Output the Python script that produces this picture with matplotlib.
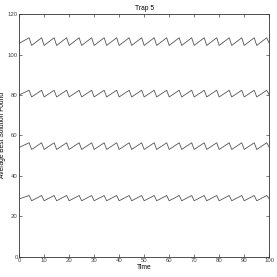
import matplotlib
matplotlib.use("Agg")
import matplotlib.pyplot as plt

plt.rcParams['font.family'] = ['Liberation Sans', 'DejaVu Sans']

# vertices of the sawtooth curves (time, value)
time = [0, 4, 5, 9, 10, 14, 15, 19, 20, 24, 25, 29, 30, 34, 35, 39, 40,
        44, 45, 49, 50, 54, 55, 59, 60, 64, 65, 69, 70, 74, 75, 79, 80,
        84, 85, 89, 90, 94, 95, 99, 100]

run_1 = [105.5, 108.3, 104.5, 108.3, 104.5, 108.3, 104.5, 108.3, 104.5,
         108.3, 104.5, 108.3, 104.5, 108.3, 104.5, 108.3, 104.5, 108.3,
         104.5, 108.3, 104.5, 108.3, 104.5, 108.3, 104.5, 108.3, 104.5,
         108.3, 104.5, 108.3, 104.5, 108.3, 104.5, 108.3, 104.5, 108.3,
         104.5, 108.3, 104.5, 108.3, 105.5]
run_2 = [80.0, 82.3, 79.0, 82.3, 79.0, 82.3, 79.0, 82.3, 79.0, 82.3, 79.0,
         82.3, 79.0, 82.3, 79.0, 82.3, 79.0, 82.3, 79.0, 82.3, 79.0, 82.3,
         79.0, 82.3, 79.0, 82.3, 79.0, 82.3, 79.0, 82.3, 79.0, 82.3, 79.0,
         82.3, 79.0, 82.3, 79.0, 82.3, 79.0, 82.3, 80.0]
run_3 = [54.0, 56.3, 53.0, 56.3, 53.0, 56.3, 53.0, 56.3, 53.0, 56.3, 53.0,
         56.3, 53.0, 56.3, 53.0, 56.3, 53.0, 56.3, 53.0, 56.3, 53.0, 56.3,
         53.0, 56.3, 53.0, 56.3, 53.0, 56.3, 53.0, 56.3, 53.0, 56.3, 53.0,
         56.3, 53.0, 56.3, 53.0, 56.3, 53.0, 56.3, 54.0]
run_4 = [28.5, 30.2, 27.6, 30.2, 27.6, 30.2, 27.6, 30.2, 27.6, 30.2, 27.6,
         30.2, 27.6, 30.2, 27.6, 30.2, 27.6, 30.2, 27.6, 30.2, 27.6, 30.2,
         27.6, 30.2, 27.6, 30.2, 27.6, 30.2, 27.6, 30.2, 27.6, 30.2, 27.6,
         30.2, 27.6, 30.2, 27.6, 30.2, 27.6, 30.2, 28.5]

xticks = [0, 10, 20, 30, 40, 50, 60, 70, 80, 90, 100]
yticks = [0, 20, 40, 60, 80, 100, 120]

fig = plt.figure(figsize=(2.77, 2.77), dpi=100)
ax = fig.add_axes([0.069, 0.074, 0.903, 0.875])

for run in [run_1, run_2, run_3, run_4]:
    ax.plot(time, run, color='#555555', linewidth=0.6)

ax.set_xlim(0, 100)
ax.set_ylim(0, 120)
ax.set_xticks(xticks)
ax.set_yticks(yticks)
ax.tick_params(direction='in', length=2.5, width=0.5, labelsize=4.3,
               top=True, right=True, pad=1, colors='#444444')
for s in ax.spines.values():
    s.set_linewidth(0.6)
    s.set_color('#333333')

ax.set_title('Trap 5', fontsize=4.8, pad=3)
ax.set_xlabel('Time', fontsize=4.8, labelpad=1)
ax.set_ylabel('Average Best Solution Found', fontsize=4.8)
ax.yaxis.set_label_coords(-0.052, 0.5)

fig.savefig('out.png', dpi=100)
